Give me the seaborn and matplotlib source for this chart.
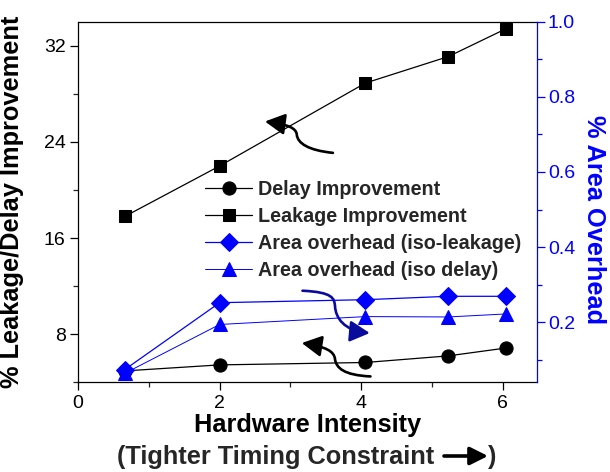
import matplotlib
matplotlib.use("Agg")
import matplotlib.pyplot as plt
import seaborn as sns
from matplotlib.path import Path
from matplotlib.patches import FancyArrowPatch
from matplotlib.ticker import MultipleLocator

# Hardware intensity on the x axis
hw_intensity = [0.66, 2.0, 4.06, 5.23, 6.04]
# Left axis: % improvement
delay_improvement = [4.95, 5.45, 5.65, 6.2, 6.85]
leakage_improvement = [17.8, 22.0, 28.9, 31.1, 33.4]
# Right axis: % area overhead
area_iso_leakage = [0.074, 0.252, 0.260, 0.269, 0.269]
area_iso_delay = [0.064, 0.194, 0.215, 0.214, 0.222]

series_labels = ["Delay Improvement", "Leakage Improvement",
                 "Area overhead (iso-leakage)", "Area overhead (iso delay)"]
x_ticks = [0, 2, 4, 6]
left_ticks = [8, 16, 24, 32]
right_ticks = [0.2, 0.4, 0.6, 0.8, 1.0]

BLUE = "#0000ff"
LABEL_SIZE = 18.3
TICK_SIZE = 14

sns.set_theme(style="ticks")
plt.rcParams["font.family"] = ["Liberation Sans", "DejaVu Sans"]
plt.rcParams["axes.linewidth"] = 0.9

fig = plt.figure(figsize=(6.1, 4.72), dpi=100)
ax = fig.add_axes([0.128, 0.190, 0.752, 0.764])
ax2 = ax.twinx()

handles = []
sns.lineplot(x=hw_intensity, y=delay_improvement, ax=ax, color="black",
             marker="o", markersize=9.5, markeredgecolor="black",
             linewidth=0.9, errorbar=None, legend=False)
handles.append(ax.lines[-1])
sns.lineplot(x=hw_intensity, y=leakage_improvement, ax=ax, color="black",
             marker="s", markersize=9, markeredgecolor="black",
             linewidth=0.9, errorbar=None, legend=False)
handles.append(ax.lines[-1])
sns.lineplot(x=hw_intensity, y=area_iso_leakage, ax=ax2, color=BLUE,
             marker="D", markersize=9, markeredgecolor=BLUE,
             linewidth=0.9, errorbar=None, legend=False)
handles.append(ax2.lines[-1])
sns.lineplot(x=hw_intensity, y=area_iso_delay, ax=ax2, color=BLUE,
             marker="^", markersize=10, markeredgecolor=BLUE,
             linewidth=0.7, errorbar=None, legend=False)
handles.append(ax2.lines[-1])

ax.set_xlim(0, 6.48)
ax.set_ylim(4, 34)
ax2.set_ylim(0.04, 1.0)

ax.set_xticks(x_ticks)
ax.set_xticklabels([str(t) for t in x_ticks])
ax.xaxis.set_minor_locator(MultipleLocator(1))
ax.set_yticks(left_ticks)
ax.set_yticklabels([str(t) for t in left_ticks])
ax.yaxis.set_minor_locator(MultipleLocator(4))
ax2.set_yticks(right_ticks)
ax2.set_yticklabels([f"{t:.1f}" for t in right_ticks])
ax2.yaxis.set_minor_locator(MultipleLocator(0.1))

ax.tick_params(axis="both", which="major", direction="out", length=6,
               width=0.9, labelsize=TICK_SIZE, colors="black", pad=3)
ax.tick_params(axis="both", which="minor", direction="out", length=3.5,
               width=0.9)
ax.tick_params(axis="x", which="both", top=False, bottom=True)
ax.tick_params(axis="x", which="major", pad=3)
ax.tick_params(axis="y", which="both", left=True, right=False)
ax2.tick_params(axis="y", which="major", direction="out", length=6,
                width=0.9, labelsize=TICK_SIZE, colors=BLUE, pad=2)
ax2.tick_params(axis="y", which="minor", direction="out", length=3.5,
                width=0.9, colors=BLUE)

for name in ["left", "bottom", "top"]:
    ax.spines[name].set_color("black")
ax.spines["right"].set_visible(False)
ax2.spines["right"].set_color(BLUE)
ax2.spines["left"].set_visible(False)
ax2.spines["top"].set_visible(False)
ax2.spines["bottom"].set_visible(False)

ax.set_ylabel("% Leakage/Delay Improvement", fontsize=LABEL_SIZE,
              fontweight="bold", color="black")
ax.yaxis.set_label_coords(-0.118, 0.5)
ax2.set_ylabel("% Area Overhead", fontsize=LABEL_SIZE, fontweight="bold",
               color=BLUE, rotation=270, va="center")
ax2.yaxis.set_label_coords(1.125, 0.45)

ax.set_xlabel("Hardware Intensity", fontsize=LABEL_SIZE, fontweight="bold",
              color="black")
ax.xaxis.set_label_coords(0.5, -0.118)
ax.xaxis.label.set_va("center")

# Second line of the x label with a solid arrow
fig.text(434 / 610, 1 - 457 / 472, "(Tighter Timing Constraint",
         ha="right", va="center", fontsize=LABEL_SIZE, fontweight="bold")
fig.text(488 / 610, 1 - 457 / 472, ")",
         ha="left", va="center", fontsize=LABEL_SIZE, fontweight="bold")
fig.patches.append(FancyArrowPatch(
    (444 / 610, 1 - 456 / 472), (488 / 610, 1 - 456 / 472),
    transform=fig.transFigure, arrowstyle="-|>,head_length=0.6,head_width=0.3",
    mutation_scale=18, lw=2.6, color="black", shrinkA=0, shrinkB=0))

leg = ax2.legend(handles, series_labels, loc="upper left",
                 bbox_to_anchor=(205 / 610, 1 - 180 / 472),
                 bbox_transform=fig.transFigure, frameon=False,
                 borderpad=0, borderaxespad=0, handlelength=2.4,
                 handletextpad=0.3, labelspacing=0.4,
                 prop={"weight": "bold", "size": 14.2})

# Curved pointers tying each curve to its axis
def curved_arrow(points, color):
    codes = [Path.MOVETO] + [Path.CURVE4] * 6
    arrow = FancyArrowPatch(path=Path(points, codes),
                            arrowstyle="-|>,head_length=0.6,head_width=0.32",
                            mutation_scale=20, lw=1.9, color=color,
                            transform=ax.transData)
    ax.add_patch(arrow)

curved_arrow([(3.60, 23.09), (3.25, 23.3), (3.10, 23.9), (3.09, 24.6),
              (3.08, 25.2), (2.95, 25.45), (2.64, 25.70)], "black")
curved_arrow([(4.13, 4.49), (3.75, 4.6), (3.65, 5.2), (3.63, 5.9),
              (3.62, 6.6), (3.50, 6.95), (3.16, 7.27)], "black")
curved_arrow([(3.17, 11.62), (3.60, 11.5), (3.62, 11.0), (3.63, 10.3),
              (3.64, 9.4), (3.75, 8.3), (4.12, 8.1)], "#0a0a9c")

fig.savefig("out.png", dpi=100)
